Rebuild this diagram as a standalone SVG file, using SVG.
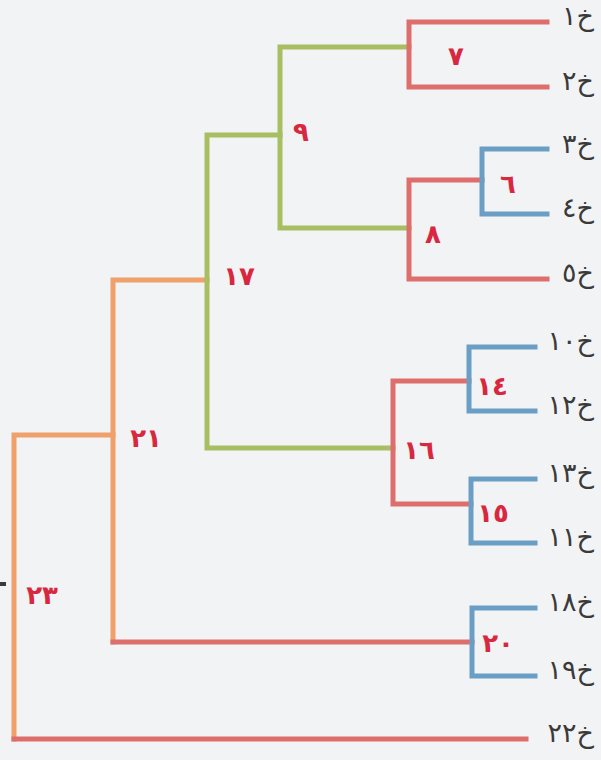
<svg xmlns="http://www.w3.org/2000/svg" width="601" height="760" viewBox="0 0 601 760">
<style>
.e{fill:none;stroke-width:5;stroke-linecap:square;stroke-linejoin:miter}
.r{stroke:#de6e6c}
.b{stroke:#6a9ec4}
.g{stroke:#a8be62}
.o{stroke:#f0a06a}
.leaf{font-family:"DejaVu Sans",sans-serif;font-size:27px;fill:#3a3a3a;text-anchor:end}
.num{font-family:"DejaVu Sans",sans-serif;font-size:26px;font-weight:bold;fill:#d8283f;text-anchor:middle}
</style>
<rect width="601" height="760" fill="#f2f3f5"/>
<g id="connectors">
<path class="e o" d="M113 435 H14 V739"/>
<path class="e r" d="M14 739 H526"/>
<path class="e o" d="M207 280 H113 V642"/>
<path class="e r" d="M113 642 H472"/>
<path class="e g" d="M280 135 H207 V448 H393"/>
<path class="e g" d="M409 47 H280 V228 H409"/>
<path class="e r" d="M547 22 H409 V87 H547"/>
<path class="e r" d="M482 180 H409 V279 H547"/>
<path class="e b" d="M547 149 H482 V214 H547"/>
<path class="e r" d="M469 381 H393 V504 H471"/>
<path class="e b" d="M535 347 H469 V411 H535"/>
<path class="e b" d="M535 479 H471 V543 H535"/>
<path class="e b" d="M535 608 H472 V676 H535"/>
<rect x="0" y="582" width="6" height="4" fill="#3a3a3a"/>
</g>
<g id="n7"><text class="num" x="456" y="65">٧</text></g>
<g id="n9"><text class="num" x="301" y="141">٩</text></g>
<g id="n6"><text class="num" x="508" y="193">٦</text></g>
<g id="n8"><text class="num" x="433" y="243">٨</text></g>
<g id="n17"><text class="num" x="239" y="285">١٧</text></g>
<g id="n14"><text class="num" x="492" y="395">١٤</text></g>
<g id="n16"><text class="num" x="419" y="459">١٦</text></g>
<g id="n15"><text class="num" x="493" y="522">١٥</text></g>
<g id="n21"><text class="num" x="146" y="447">٢١</text></g>
<g id="n23"><text class="num" x="42" y="604">٢٣</text></g>
<g id="n20"><text class="num" x="498" y="652">٢٠</text></g>
<g id="leaves">
<g id="k1"><text class="leaf" x="594" y="25">خ١</text></g>
<g id="k2"><text class="leaf" x="594" y="90">خ٢</text></g>
<g id="k3"><text class="leaf" x="594" y="153">خ٣</text></g>
<g id="k4"><text class="leaf" x="594" y="217">خ٤</text></g>
<g id="k5"><text class="leaf" x="594" y="282">خ٥</text></g>
<g id="k10"><text class="leaf" x="594" y="350">خ١٠</text></g>
<g id="k12"><text class="leaf" x="594" y="414">خ١٢</text></g>
<g id="k13"><text class="leaf" x="594" y="482">خ١٣</text></g>
<g id="k11"><text class="leaf" x="594" y="546">خ١١</text></g>
<g id="k18"><text class="leaf" x="594" y="611">خ١٨</text></g>
<g id="k19"><text class="leaf" x="594" y="679">خ١٩</text></g>
<g id="k22"><text class="leaf" x="594" y="742">خ٢٢</text></g>
</g>
</svg>
